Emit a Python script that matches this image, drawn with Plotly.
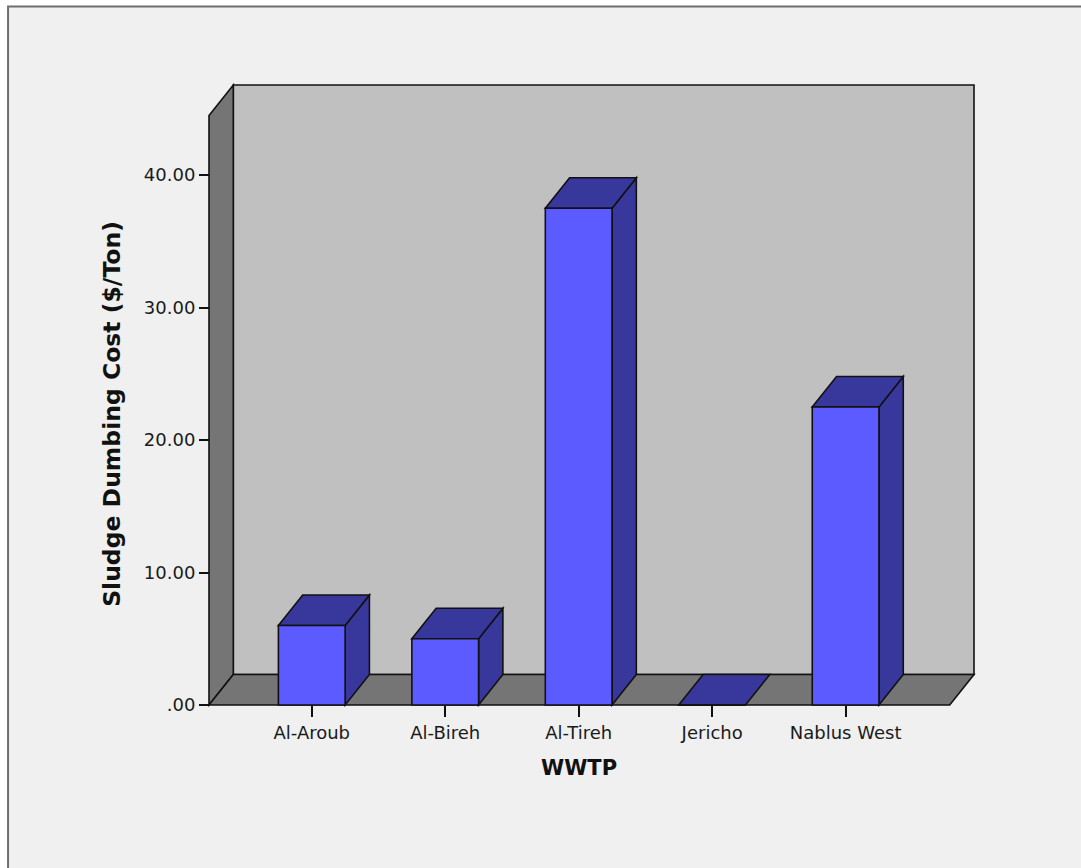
import plotly.graph_objects as go

# ---- data -------------------------------------------------------------
categories = ["Al-Aroub", "Al-Bireh", "Al-Tireh", "Jericho", "Nablus West"]
costs = [6.0, 5.0, 37.5, 0.0, 22.5]
y_tick_values = [0, 10, 20, 30, 40]
y_tick_labels = [".00", "10.00", "20.00", "30.00", "40.00"]

# ---- 3-D box geometry (data units) ------------------------------------
BAR_W = 0.5          # bar front-face width
DEPTH_X = 0.182      # oblique depth offset along x
DEPTH_Y = 2.3        # oblique depth offset along y
X_FRONT = (-0.77, 4.78)
Y_TOP = 44.5

# ---- page layout ------------------------------------------------------
FIG_W, FIG_H = 1081, 868
PX_X, PX_Y = 133.5, 13.24      # pixels per data unit
PAD = 4
LEFT = 209 - PAD
BOTTOM = FIG_H - (705 + PAD)

x_range = [X_FRONT[0] - PAD / PX_X, X_FRONT[1] + DEPTH_X + PAD / PX_X]
y_range = [-PAD / PX_Y, Y_TOP + DEPTH_Y + PAD / PX_Y]
plot_w = (x_range[1] - x_range[0]) * PX_X
plot_h = (y_range[1] - y_range[0]) * PX_Y
RIGHT = FIG_W - LEFT - plot_w
TOP = FIG_H - BOTTOM - plot_h
plot_bottom_px = FIG_H - BOTTOM

BG = "#eff0ef"
WALL_BACK = "#c0c0c0"
WALL_SIDE = "#757575"
BAR_FRONT = "#5b5bff"
BAR_DARK = "#38389c"
EDGE = dict(color="#111111", width=1.6)


def poly(points):
    return "M " + " L ".join(f"{x},{y}" for x, y in points) + " Z"


shapes = []

# outer chart frame
shapes.append(dict(
    type="rect", xref="paper", yref="paper", layer="below",
    x0=(8 - LEFT) / plot_w, x1=(FIG_W + 20 - LEFT) / plot_w,
    y0=(plot_bottom_px - FIG_H - 20) / plot_h, y1=(plot_bottom_px - 7) / plot_h,
    fillcolor=BG, line=dict(color="#6e6e6e", width=2),
))

xl, xr = X_FRONT
# back wall
shapes.append(dict(type="path", xref="x", yref="y", layer="below",
                   path=poly([(xl + DEPTH_X, DEPTH_Y), (xr + DEPTH_X, DEPTH_Y),
                              (xr + DEPTH_X, Y_TOP + DEPTH_Y), (xl + DEPTH_X, Y_TOP + DEPTH_Y)]),
                   fillcolor=WALL_BACK, line=EDGE))
# left wall
shapes.append(dict(type="path", xref="x", yref="y", layer="below",
                   path=poly([(xl, 0), (xl, Y_TOP), (xl + DEPTH_X, Y_TOP + DEPTH_Y),
                              (xl + DEPTH_X, DEPTH_Y)]),
                   fillcolor=WALL_SIDE, line=EDGE))
# floor
shapes.append(dict(type="path", xref="x", yref="y", layer="below",
                   path=poly([(xl, 0), (xr, 0), (xr + DEPTH_X, DEPTH_Y), (xl + DEPTH_X, DEPTH_Y)]),
                   fillcolor=WALL_SIDE, line=EDGE))

# side and top faces of every bar
for i, v in enumerate(costs):
    a, b = i - BAR_W / 2, i + BAR_W / 2
    if v > 0:
        shapes.append(dict(type="path", xref="x", yref="y", layer="below",
                           path=poly([(b, 0), (b, v), (b + DEPTH_X, v + DEPTH_Y), (b + DEPTH_X, DEPTH_Y)]),
                           fillcolor=BAR_DARK, line=EDGE))
    shapes.append(dict(type="path", xref="x", yref="y", layer="below",
                       path=poly([(a, v), (b, v), (b + DEPTH_X, v + DEPTH_Y), (a + DEPTH_X, v + DEPTH_Y)]),
                       fillcolor=BAR_DARK, line=EDGE))

fig = go.Figure()
fig.add_trace(go.Bar(
    x=list(range(len(categories))), y=costs, width=BAR_W,
    marker=dict(color=BAR_FRONT, line=EDGE),
    hoverinfo="skip",
))

FONT = "DejaVu Sans"
fig.update_layout(
    width=FIG_W, height=FIG_H,
    margin=dict(l=LEFT, r=RIGHT, t=TOP, b=BOTTOM, pad=0),
    paper_bgcolor="#ffffff", plot_bgcolor="rgba(0,0,0,0)",
    showlegend=False, shapes=shapes,
    font=dict(family=FONT, color="#1a1a1a"),
    xaxis=dict(range=x_range, anchor="free", position=PAD / plot_h,
               tickvals=list(range(len(categories))), ticktext=categories,
               ticks="outside", ticklen=11, tickwidth=1.5, tickcolor="#111111",
               showgrid=False, zeroline=False, showline=False,
               tickfont=dict(size=18, family=FONT)),
    yaxis=dict(range=y_range, anchor="free", position=PAD / plot_w,
               tickvals=y_tick_values, ticktext=y_tick_labels,
               ticks="outside", ticklen=10, tickwidth=1.5, tickcolor="#111111",
               showgrid=False, zeroline=False, showline=False,
               tickfont=dict(size=18, family=FONT)),
    annotations=[
        dict(text="<b>Sludge Dumbing Cost ($/Ton)</b>", xref="paper", yref="paper",
             x=(112 - LEFT) / plot_w, y=(plot_bottom_px - 414) / plot_h,
             textangle=-90, showarrow=False, xanchor="center", yanchor="middle",
             font=dict(size=23.5, family=FONT, color="#111111")),
        dict(text="<b>WWTP</b>", xref="paper", yref="paper",
             x=(579 - LEFT) / plot_w, y=(plot_bottom_px - 768) / plot_h,
             showarrow=False, xanchor="center", yanchor="middle",
             font=dict(size=21, family=FONT, color="#111111")),
    ],
)

fig.write_html("out.html")
